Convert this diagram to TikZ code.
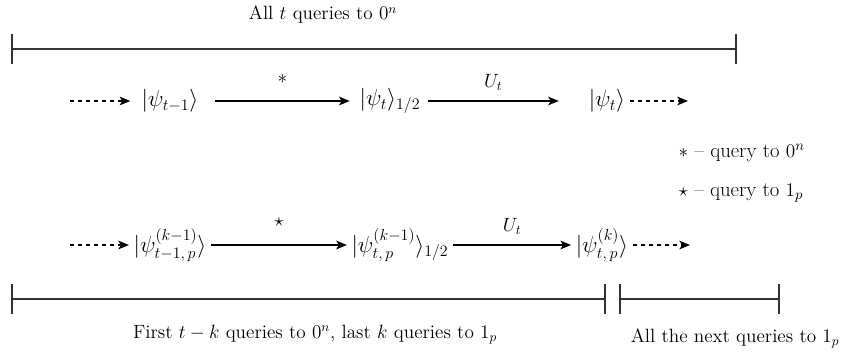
\documentclass[tikz,border=0pt]{standalone}
\usepackage{amssymb}
\usepackage{mathtools}
\usetikzlibrary{arrows.meta}

\tikzset{
	flow/.style={-{Stealth[length=8pt,width=6.5pt,inset=2pt]}, line width=1pt},
	flowdash/.style={flow, dashed},
	bar/.style={line width=0.8pt, draw=black!80},
	ket/.style={font=\LARGE},
	every node/.style={font=\Large}
}

\begin{document}
\begin{tikzpicture}[x=0.75pt,y=-0.75pt]
			\useasboundingbox (0,0) rectangle (845,354);
			% top bar
			\node (toplbl) at (323,15) {All $t$ queries to $0^n$};
			\coordinate (ta) at (12,49);
			\coordinate (tb) at (736,49);
			\draw[bar] (ta) -- (tb);
			\draw[bar] ([yshift=-11pt]ta) -- ([yshift=11pt]ta);
			\draw[bar] ([yshift=-11pt]tb) -- ([yshift=11pt]tb);
			% first row
			\coordinate (s1) at (70,101);
			\node[ket] (a1) at (170,101) {$\lvert\psi_{t-1}\rangle$};
			\node[ket] (b1) at (390,101) {$\lvert\psi_t\rangle_{1/2}$};
			\node[ket] (c1) at (607,101) {$\lvert\psi_t\rangle$};
			\coordinate (e1) at (688,101);
			\draw[flowdash] (s1) -- ([xshift=-5pt]a1.west);
			\draw[flow] ([xshift=9pt]a1.east) -- node[above=9pt]{$*$} ([xshift=-4pt]b1.west);
			\draw[flow] ([xshift=2pt]b1.east) -- node[above=4pt]{$U_t$} ([xshift=-19pt]c1.west);
			\draw[flowdash] (c1) -- (e1);
			% legend
			\node[anchor=west, font=\fontsize{15.5}{18}\selectfont] (leg1) at (674,153) {$*$ -- query to $0^n$};
			\node[anchor=west, font=\fontsize{15.5}{18}\selectfont] (leg2) at (674,193) {$\star$ -- query to $1_p$};
			% second row
			\coordinate (s2) at (70,245);
			\node[ket] (a2) at (170,245) {$\lvert\psi^{(k-1)}_{t-1,\,p}\rangle$};
			\node[ket] (b2) at (400,245) {$\lvert\psi^{(k-1)}_{t,\,p}\rangle_{1/2}$};
			\node[ket] (c2) at (602,245) {$\lvert\psi^{(k)}_{t,\,p}\rangle$};
			\coordinate (e2) at (690,245);
			\draw[flowdash] (s2) -- (a2);
			\draw[flow] (a2) -- node[above=10pt]{$\star$} (b2);
			\draw[flow] (b2) -- node[above=4pt]{$U_t$} (c2);
			\draw[flowdash] (c2) -- (e2);
			% bottom bars
			\coordinate (ba) at (12,299);
			\coordinate (bb) at (605,299);
			\coordinate (bc) at (620,299);
			\coordinate (bd) at (779,299);
			\draw[bar] (ba) -- (bb);
			\draw[bar] (bc) -- (bd);
			\foreach \p in {ba,bb,bc,bd}
				\draw[bar] ([yshift=-11pt]\p) -- ([yshift=11pt]\p);
			\node (botlbl1) at (315,335) {First $t-k$ queries to $0^n$, last $k$ queries to $1_p$};
			\node (botlbl2) at (735,338) {All the next queries to $1_p$};
		\end{tikzpicture}
\end{document}
